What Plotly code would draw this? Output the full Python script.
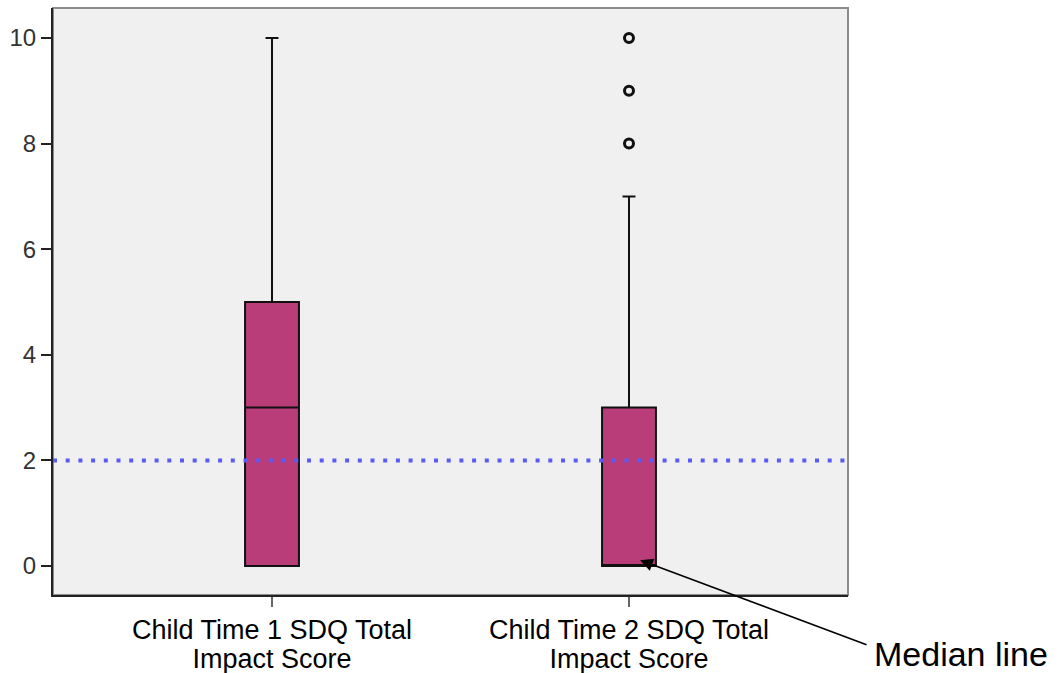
import plotly.graph_objects as go

categories = ["Child Time 1 SDQ Total<br>Impact Score", "Child Time 2 SDQ Total<br>Impact Score"]
q1 = [0, 0]
median = [3, 0]
q3 = [5, 3]
lower_fence = [0, 0]
upper_fence = [10, 7]
outlier_cat = [categories[1]] * 3
outlier_vals = [8, 9, 10]
reference_value = 2
y_ticks = [0, 2, 4, 6, 8, 10]

BOX_FILL = "#B83D78"

fig = go.Figure()
fig.add_trace(go.Box(
    x=categories, q1=q1, median=median, q3=q3,
    lowerfence=lower_fence, upperfence=upper_fence,
    fillcolor=BOX_FILL, line=dict(color="#111111", width=2),
    width=0.151, whiskerwidth=0.24, boxpoints=False, showlegend=False,
))
fig.add_trace(go.Scatter(
    x=outlier_cat, y=outlier_vals, mode="markers",
    marker=dict(symbol="circle-open", size=9, color="#111111", line=dict(width=3, color="#111111")),
    showlegend=False,
))

fig.add_shape(type="line", xref="paper", yref="y", x0=0, x1=1, y0=reference_value, y1=reference_value,
              line=dict(color="#5A5AF5", width=4, dash="4px,8.7px"), layer="above")
# frame
fig.add_shape(type="rect", xref="paper", yref="paper", x0=0, x1=1, y0=0, y1=1,
              line=dict(color="#8C8C8C", width=2), layer="below")

fig.add_annotation(x=1.031, y=0.11, xref="x", yref="y", text="", showarrow=True,
                   ax=228, ay=85, arrowhead=2, arrowsize=1.6, arrowwidth=1.6, arrowcolor="#000000")
fig.add_annotation(x=1.030, y=-0.1, xref="paper", yref="paper", text="Median line",
                   showarrow=False, xanchor="left", yanchor="middle",
                   font=dict(family="Arial, Liberation Sans", size=34, color="#000000"))

tick_text = ['<span style="font-size:27px">' + c + "</span>" for c in categories]

fig.update_xaxes(type="category", categoryorder="array", categoryarray=categories,
                 tickvals=categories, ticktext=tick_text,
                 range=[-0.6135, 1.6135], showgrid=False, zeroline=False, automargin=False,
                 showline=True, linecolor="#222222", linewidth=2,
                 ticks="outside", ticklen=10, tickwidth=1.5, tickcolor="#666666",
                 ticklabelstandoff=6,
                 tickfont=dict(family="Arial, Liberation Sans", size=22, color="#000000"))
fig.update_yaxes(range=[-0.549, 10.568], tickvals=y_ticks, showgrid=False, zeroline=False,
                 automargin=False,
                 showline=True, linecolor="#222222", linewidth=2,
                 ticks="outside", ticklen=10, tickwidth=1.5, tickcolor="#222222",
                 tickfont=dict(family="Arial, Liberation Sans", size=24, color="#333333"))

fig.update_layout(width=1064, height=673, margin=dict(l=53, r=216, t=8, b=78),
                  plot_bgcolor="#F0F0F0", paper_bgcolor="#FFFFFF", showlegend=False)

fig.write_html("out.html", config={"displayModeBar": False},
               post_script="document.body.style.margin='0';document.body.style.overflow='hidden';")
